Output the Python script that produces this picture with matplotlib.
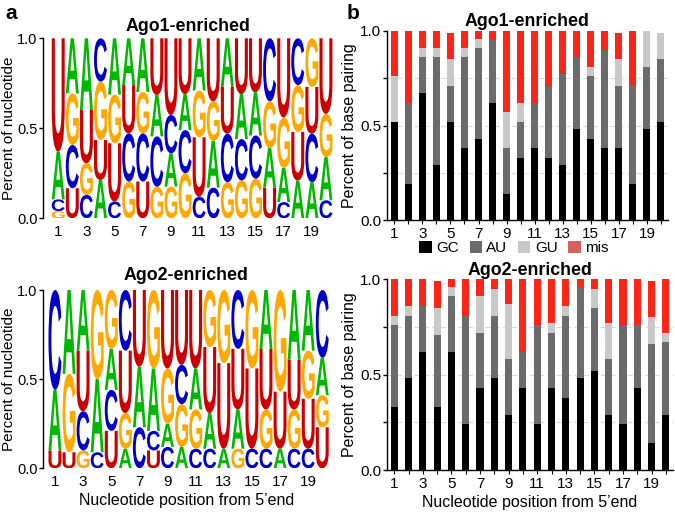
import matplotlib
matplotlib.use('Agg')
import matplotlib.pyplot as plt
from matplotlib.textpath import TextPath
from matplotlib.font_manager import FontProperties
from matplotlib.patches import PathPatch, Patch
from matplotlib.transforms import Affine2D

plt.rcParams['font.family'] = ['Liberation Sans', 'DejaVu Sans']

positions = list(range(1, 21))
xtick_labels = [str(p) if p % 2 == 1 else '' for p in positions]

# ---- sequence logo data: letters stacked bottom -> top, with their fractions ----
ago1_logo_letters = ["GCAU", "UCGA", "CGUA", "AUGC", "CUGA", "GCUA", "UCGA", "GCAU", "GACU", "GCAU",
                     "CUGA", "CAGU", "GCUA", "GCAU", "GCAU", "UAGC", "CAGU", "AUGC", "ACUG", "CAGU"]
ago1_logo_heights = [[.04, .065, .265, .63], [.167, .24, .287, .306], [.13, .176, .296, .398],
                     [.213, .222, .324, .241], [.093, .324, .27, .313], [.204, .268, .268, .26],
                     [.204, .268, .23, .298], [.175, .28, .23, .315], [.176, .185, .213, .426],
                     [.25, .24, .20, .31], [.12, .33, .26, .29], [.17, .26, .22, .35],
                     [.20, .27, .26, .27], [.21, .23, .25, .31], [.22, .24, .24, .30],
                     [.17, .22, .26, .35], [.09, .19, .28, .44], [.21, .27, .26, .26],
                     [.20, .27, .26, .27], [.10, .24, .24, .42]]

ago2_logo_letters = ["UAC", "UGA", "GCUA", "CAG", "UCAG", "AGUC", "CAU", "UCAG", "CAGU", "AGCU",
                     "CGAU", "CAUG", "AUG", "GAUC", "CUG", "CGUA", "AUG", "CGUA", "CUGA", "UGAC"]
ago2_logo_heights = [[.10, .34, .56], [.09, .44, .47], [.10, .22, .34, .34], [.09, .41, .50],
                     [.21, .23, .23, .33], [.11, .20, .35, .34], [.23, .34, .43], [.10, .11, .35, .44],
                     [.12, .13, .31, .44], [.12, .24, .22, .42], [.11, .22, .23, .44],
                     [.11, .20, .37, .32], [.11, .48, .41], [.11, .22, .34, .33], [.11, .45, .44],
                     [.11, .22, .34, .33], [.11, .32, .57], [.11, .22, .28, .39],
                     [.11, .28, .27, .34], [.23, .18, .21, .38]]

# ---- base pairing data (fractions) ----
pair_types = ['GC', 'AU', 'GU', 'mis']
ago1_gc = [.52, .19, .67, .29, .52, .38, .43, .62, .14, .33, .38, .33, .29, .48, .43, .38, .38, .19, .48, .52]
ago1_au = [0, .43, .19, .57, .19, .48, .48, .33, .24, .19, .24, .38, .48, .38, .33, .52, .33, .52, .33, .33]
ago1_gu = [.24, 0, .05, .05, .14, .05, .05, 0, .19, .10, 0, 0, 0, 0, .05, 0, .14, 0, .19, .14]
ago1_mis = [.24, .38, .10, .10, .14, .10, .05, .05, .43, .38, .38, .29, .24, .14, .19, .10, .14, .29, 0, 0]

ago2_gc = [.33, .48, .62, .33, .62, .24, .43, .48, .29, .43, .24, .43, .38, .48, .52, .29, .24, .43, .14, .29]
ago2_au = [.43, .33, .24, .38, .29, .57, .29, .33, .29, .19, .52, .29, .43, .48, .33, .29, .52, .33, .52, .38]
ago2_gu = [.05, .05, 0, .14, .05, 0, .19, .14, .29, 0, 0, .05, .05, 0, .10, .19, 0, 0, .14, .05]
ago2_mis = [.19, .14, .14, .14, .05, .19, .10, .05, .14, .38, .24, .24, .14, .05, .05, .24, .24, .24, .19, .29]

letter_colors = {'A': '#00b800', 'C': '#0000c8', 'G': '#ffa800', 'U': '#cc0000'}
bar_colors = ['#000000', '#6b6b6b', '#c9c9c9', '#ff2418']
legend_colors = ['#000000', '#6b6b6b', '#c9c9c9', '#d4625c']

W, H = 675, 514
fig = plt.figure(figsize=(W / 100, H / 100), dpi=100)


def axpx(l, t, r, b):
    return fig.add_axes([l / W, 1 - b / H, (r - l) / W, (b - t) / H])


fp = FontProperties(family='Liberation Sans', weight='bold')


def draw_logo(ax, letters, heights, width=0.92):
    for pos, seq, hs in zip(positions, letters, heights):
        y = 0.0
        for ch, h in zip(seq, hs):
            tp = TextPath((0, 0), ch, size=1, prop=fp)
            bb = tp.get_extents()
            t = (Affine2D().translate(-bb.x0, -bb.y0)
                 .scale(width / bb.width, h / bb.height)
                 .translate(pos - width / 2, y))
            ax.add_patch(PathPatch(t.transform_path(tp), facecolor=letter_colors[ch],
                                   edgecolor='none', lw=0))
            y += h


def style_logo(ax, title, xlim, pad):
    ax.set_xlim(*xlim)
    ax.set_ylim(0, 1)
    for s in ['top', 'right', 'bottom']:
        ax.spines[s].set_visible(False)
    ax.spines['left'].set_linewidth(1.0)
    ax.set_yticks([0, 0.5, 1.0])
    ax.set_yticklabels(['0.0', '0.5', '1.0'])
    ax.set_xticks(positions)
    ax.set_xticklabels(xtick_labels)
    ax.tick_params(axis='x', length=0, labelsize=11, pad=5)
    ax.tick_params(axis='y', length=3, width=1, labelsize=10.5, pad=1)
    ax.set_ylabel('Percent of nucleotide', fontsize=11, labelpad=1)
    ax.set_title(title, fontsize=12.8, fontweight='bold', pad=pad)


def draw_bars(ax, gc, au, gu, mis, title, xlim, pad):
    bottom = [0.0] * len(positions)
    for vals, col in zip([gc, au, gu, mis], bar_colors):
        ax.bar(positions, vals, width=0.5, bottom=bottom, color=col, linewidth=0, zorder=2)
        bottom = [b + v for b, v in zip(bottom, vals)]
    ax.set_xlim(*xlim)
    ax.set_ylim(0, 1)
    for y in [0.25, 0.5, 0.75]:
        ax.axhline(y, color='#d9d9d9', lw=0.8, ls=(0, (5, 3)), zorder=1)
    for s in ['top', 'right']:
        ax.spines[s].set_visible(False)
    ax.spines['left'].set_linewidth(1.0)
    ax.spines['bottom'].set_linewidth(1.0)
    ax.set_yticks([0, 0.5, 1.0])
    ax.set_yticklabels(['0.0', '0.5', '1.0'])
    ax.set_yticks([0.25, 0.75], minor=True)
    ax.set_xticks(positions)
    ax.set_xticklabels(xtick_labels)
    ax.tick_params(axis='x', length=3, width=0.8, labelsize=11, pad=2)
    ax.tick_params(axis='y', which='both', length=3, width=1, labelsize=11, pad=1)
    ax.set_ylabel('Percent of base pairing', fontsize=11.5, labelpad=2)
    ax.set_title(title, fontsize=12.8, fontweight='bold', pad=pad)


ax1 = axpx(43, 38.3, 333, 218.3)
draw_logo(ax1, ago1_logo_letters, ago1_logo_heights)
style_logo(ax1, 'Ago1-enriched', (-0.08, 20.5), 5.5)

ax2 = axpx(43, 290, 330, 468.3)
draw_logo(ax2, ago2_logo_letters, ago2_logo_heights)
style_logo(ax2, 'Ago2-enriched', (0.15, 20.55), 7)
ax2.set_xlabel("Nucleotide position from 5\u2019end", fontsize=11.5, labelpad=3)

ax3 = axpx(386.7, 31, 668, 220)
draw_bars(ax3, ago1_gc, ago1_au, ago1_gu, ago1_mis, 'Ago1-enriched', (0.46, 20.5), 3.5)

ax4 = axpx(386.7, 279.3, 673, 470)
draw_bars(ax4, ago2_gc, ago2_au, ago2_gu, ago2_mis, 'Ago2-enriched', (0.47, 20.5), 3)
ax4.set_xlabel("Nucleotide position from 5\u2019end", fontsize=11.5, labelpad=3)

handles = [Patch(facecolor=c, edgecolor='none') for c in legend_colors]
fig.legend(handles, pair_types, loc='center', bbox_to_anchor=(514 / W, 1 - 248 / H), ncol=4,
           frameon=False, handlelength=0.8, handleheight=0.8, handletextpad=0.3,
           columnspacing=0.7, fontsize=11, borderaxespad=0, borderpad=0)

fig.text(5 / W, 1 - 19 / H, 'a', fontsize=15, fontweight='bold', va='baseline')
fig.text(347 / W, 1 - 19 / H, 'b', fontsize=15, fontweight='bold', va='baseline')

fig.savefig('out.png', dpi=100)
